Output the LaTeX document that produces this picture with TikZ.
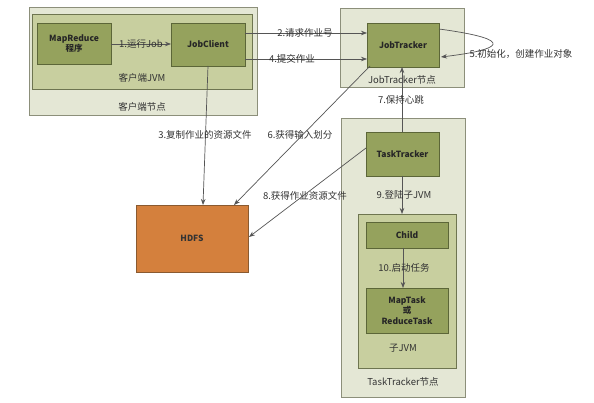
\documentclass[tikz,border=0pt]{standalone}
\usepackage{fontspec}
\setmainfont{Noto Sans CJK SC}
\usetikzlibrary{arrows.meta}
\definecolor{outerfill}{HTML}{E4E7D5}
\definecolor{outerdraw}{HTML}{8C8F7A}
\definecolor{jvmfill}{HTML}{C8CF9F}
\definecolor{jvmdraw}{HTML}{6E7550}
\definecolor{boxfill}{HTML}{95A25D}
\definecolor{boxdraw}{HTML}{5C6638}
\definecolor{hdfsfill}{HTML}{D4803D}
\definecolor{hdfsdraw}{HTML}{8A5A30}
\definecolor{linec}{HTML}{555555}
\definecolor{txt}{HTML}{333333}
\begin{document}
\begin{tikzpicture}[x=1pt,y=-1pt,
  outerbox/.style={draw=outerdraw,fill=outerfill,line width=1pt},
  jvmbox/.style={draw=jvmdraw,fill=jvmfill,line width=0.8pt},
  innerbox/.style={draw=boxdraw,fill=boxfill,line width=0.8pt},
  hdfsbox/.style={draw=hdfsdraw,fill=hdfsfill,line width=0.8pt},
  boxtext/.style={font=\fontsize{8.5}{10.5}\selectfont\bfseries,text=black!85,align=center},
  lbl/.style={font=\fontsize{9.5}{11}\selectfont,text=txt},
  arr/.style={draw=linec,line width=0.7pt,-{Stealth[length=6pt,width=4.5pt]}}]
\useasboundingbox (0,0) rectangle (594,403);
\fill[white] (0,0) rectangle (594,403);
% client node
\draw[outerbox] (29,8) rectangle (257,116);
\draw[jvmbox] (32,14) rectangle (252,89);
\node[lbl] (clientnode) at (142,107) {客户端节点};
\node[lbl] (clientjvm) at (142,78) {客户端JVM};
\draw[innerbox] (37,23) rectangle (111,64);
\node[boxtext] (mr) at (74,43.5) {MapReduce\\程序};
\coordinate (mrR) at (111,44);
\draw[innerbox] (171,23) rectangle (245,66);
\node[boxtext] (jc) at (208,44.5) {JobClient};
\coordinate (jcL) at (171,44);
% JobTracker node
\draw[outerbox] (340,9) rectangle (464,88);
\draw[innerbox] (367,23) rectangle (439,67);
\node[boxtext] (jt) at (403,45) {JobTracker};
\node[lbl] (jtnode) at (402,80) {JobTracker节点};
% TaskTracker node
\draw[outerbox] (341,119) rectangle (465,397);
\draw[innerbox] (366,132) rectangle (439,176);
\node[boxtext] (tt) at (402.5,154) {TaskTracker};
\draw[jvmbox] (358,214) rectangle (456,368);
\draw[innerbox] (366,222) rectangle (448,248);
\node[boxtext] (child) at (407,235) {Child};
\draw[innerbox] (366,288) rectangle (448,333);
\node[boxtext] (task) at (407,310.5) {MapTask\\或\\ReduceTask};
\node[lbl] (subjvm) at (403,348) {子JVM};
\node[lbl] (ttnode) at (403,382) {TaskTracker节点};
% HDFS
\draw[hdfsbox] (136,205) rectangle (248,272);
\node[font=\fontsize{8.5}{10}\selectfont\bfseries,text=black!80] (hdfs) at (192,238.5) {HDFS};
% arrows
\draw[arr] (mrR) -- (jcL);
\node[lbl] (l1) at (141,44) {1.运行Job};
\draw[arr] (245,33) -- (367,33);
\node[lbl] (l2) at (305,33) {2.请求作业号};
\draw[arr] (245,59) -- (367,59);
\node[lbl] (l4) at (292,59) {4.提交作业};
\draw[arr] (439,29) .. controls (520,40) and (500,50) .. (441,57);
\node[lbl,anchor=west] (l5) at (466,54) {5.初始化，创建作业对象};
\draw[arr] (402,132) -- (402,67);
\node[lbl] (l7) at (401,100) {7.保持心跳};
\draw[arr] (208,66) -- (203,205);
\node[lbl] (l3) at (205,135) {3.复制作业的资源文件};
\draw[arr] (370,66) -- (234,205);
\node[lbl] (l6) at (300,135) {6.获得输入划分};
\draw[arr] (366,148) -- (249,237);
\node[lbl] (l8) at (305,196) {8.获得作业资源文件};
\draw[arr] (402,176) -- (402,214);
\node[lbl] (l9) at (404,195) {9.登陆子JVM};
\draw[arr] (403,248) -- (403,288);
\node[lbl] (l10) at (404,268) {10.启动任务};
\end{tikzpicture}
\end{document}
